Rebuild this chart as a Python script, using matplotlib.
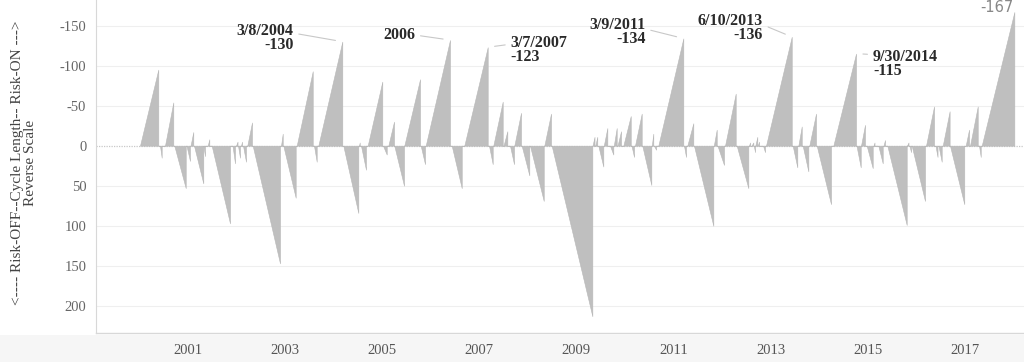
import matplotlib
matplotlib.use("Agg")
import matplotlib.pyplot as plt
from matplotlib.patches import Rectangle

# ---- data: each cycle ramps from 0 at its start to its peak at its end ----
cycle_start = [
    2000.013, 2000.425, 2000.528, 2000.720, 2000.971, 2001.054, 2001.126, 2001.321,
    2001.408, 2001.490, 2001.919, 2001.991, 2002.032, 2002.094, 2002.135, 2002.223,
    2002.335, 2002.918, 2002.965, 2003.241, 2003.597, 2003.686, 2004.201, 2004.524,
    2004.565, 2004.703, 2005.018, 2005.128, 2005.251, 2005.457, 2005.795, 2005.898,
    2006.434, 2006.693, 2007.202, 2007.290, 2007.501, 2007.634, 2007.723, 2007.875,
    2008.046, 2008.341, 2008.493, 2009.334, 2009.391, 2009.453, 2009.566, 2009.694,
    2009.772, 2009.849, 2009.968, 2010.137, 2010.209, 2010.359, 2010.555, 2010.600,
    2010.689, 2011.218, 2011.286, 2011.424, 2011.832, 2011.908, 2012.063, 2012.304,
    2012.557, 2012.609, 2012.656, 2012.687, 2012.738, 2012.846, 2012.907, 2013.457,
    2013.573, 2013.663, 2013.799, 2013.952, 2014.294, 2014.771, 2014.864, 2014.981,
    2015.121, 2015.220, 2015.327, 2015.406, 2015.811, 2015.863, 2015.908, 2016.203,
    2016.398, 2016.460, 2016.547, 2016.697, 2017.020, 2017.109, 2017.295, 2017.350,
]
cycle_end = [
    2000.390, 2000.460, 2000.699, 2000.955, 2001.043, 2001.111, 2001.317, 2001.352,
    2001.441, 2001.867, 2001.970, 2002.022, 2002.073, 2002.114, 2002.197, 2002.320,
    2002.897, 2002.953, 2003.220, 2003.571, 2003.653, 2004.180, 2004.510, 2004.539,
    2004.668, 2005.004, 2005.095, 2005.245, 2005.451, 2005.781, 2005.884, 2006.398,
    2006.640, 2007.175, 2007.278, 2007.484, 2007.579, 2007.717, 2007.861, 2008.032,
    2008.329, 2008.479, 2009.330, 2009.375, 2009.432, 2009.556, 2009.639, 2009.762,
    2009.832, 2009.921, 2010.121, 2010.189, 2010.347, 2010.545, 2010.586, 2010.642,
    2011.204, 2011.260, 2011.410, 2011.822, 2011.892, 2012.042, 2012.283, 2012.543,
    2012.578, 2012.646, 2012.681, 2012.728, 2012.763, 2012.887, 2013.437, 2013.552,
    2013.643, 2013.779, 2013.937, 2014.246, 2014.761, 2014.858, 2014.946, 2015.105,
    2015.142, 2015.311, 2015.358, 2015.805, 2015.842, 2015.894, 2016.182, 2016.368,
    2016.440, 2016.526, 2016.689, 2016.991, 2017.089, 2017.268, 2017.330, 2018.022,
]
cycle_peak = [
    -95, 15, -54, 53, 19, -17, 47, 13,
    -8, 97, 22, -5, 15, -5, 20, -29,
    147, -15, 65, -93, 20, -130, 84, -4,
    30, -80, 11, -30, 50, -83, 23, -132,
    53, -123, 23, -55, -18, 23, -41, 37,
    69, -40, 213, -11, -11, 26, -22, 11,
    -22, -18, -37, 14, -40, 49, -15, 5,
    -134, 14, -28, 100, -20, 24, -65, 53,
    -4, -4, 8, -11, -5, 8, -136, 27,
    -24, 32, -40, 73, -115, 27, -26, 28,
    -4, 22, -7, 99, -4, 8, 69, -49,
    14, 20, -43, 73, -20, -49, 14, -167,
]

year_ticks = [2001, 2003, 2005, 2007, 2009, 2011, 2013, 2015, 2017]
y_ticks = [-150, -100, -50, 0, 50, 100, 150, 200]

# annotations: label, date of peak, value of peak
ann_labels = ["3/8/2004\n-130", "2006", "3/7/2007\n-123", "3/9/2011\n-134",
              "6/10/2013\n-136", "9/30/2014\n-115"]
ann_dates = [2004.180, 2006.398, 2007.175, 2011.204, 2013.437, 2014.761]
ann_values = [-130, -132, -123, -134, -136, -115]

# ---- build the sawtooth path ----
xs, ys = [], []
for s, e, p in zip(cycle_start, cycle_end, cycle_peak):
    xs += [s, e, e]
    ys += [0, p, 0]

W, H, DPI = 1024, 362, 100
fig = plt.figure(figsize=(W / DPI, H / DPI), dpi=DPI)
fig.patch.set_facecolor("white")

# bottom grey band
fig.patches.append(Rectangle((0, 0), 1, 1 - 335 / H, transform=fig.transFigure,
                             facecolor="#f6f6f6", edgecolor="none", zorder=-5))

ax = fig.add_axes([96 / W, 1 - 333 / H, 1 - 96 / W, 333 / H])
ax.set_facecolor("white")
ax.set_zorder(1)

ax.fill_between(xs, 0, ys, color="#bfbfbf", linewidth=0.4, edgecolor="#b8b8b8", zorder=3)
ax.axhline(0, color="#c8c8c8", linestyle=(0, (1, 1)), linewidth=0.9, zorder=2)

for yv in y_ticks:
    if yv != 0:
        ax.axhline(yv, color="#efefef", linewidth=0.8, zorder=1)

ax.set_xlim(1999.107, 2018.221)
ax.set_ylim(234, -182)

ax.set_yticks(y_ticks)
ax.set_yticklabels([str(v) for v in y_ticks])
ax.set_xticks(year_ticks)
ax.set_xticklabels([str(v) for v in year_ticks])

serif = ["Liberation Serif", "DejaVu Serif"]
ax.tick_params(axis="both", length=0, labelsize=10.5, colors="#666666")
ax.tick_params(axis="y", pad=7)
ax.tick_params(axis="x", pad=8)
for lab in ax.get_xticklabels() + ax.get_yticklabels():
    lab.set_family(serif)
for lab in ax.get_xticklabels():
    lab.set_color("#555555")

for sp in ["top", "right"]:
    ax.spines[sp].set_visible(False)
ax.spines["left"].set_color("#d8d8d8")
ax.spines["bottom"].set_color("#d8d8d8")
ax.spines["left"].set_linewidth(0.8)
ax.spines["bottom"].set_linewidth(1.0)

# annotations (offsets in points)
px = 0.72
ann_offsets = [(-49, 4), (-35, 5), (23, -3), (-38, 6.5), (-29, 9), (17, -10)]
ann_ha = ["right", "right", "left", "right", "right", "left"]
ann_rel = [(1, 0.65), (1, 0.5), (0, 0.7), (1, 0.6), (1, 0.6), (0, 0.8)]
for lab, d, v, (dx, dy), ha, rp in zip(ann_labels, ann_dates, ann_values,
                                       ann_offsets, ann_ha, ann_rel):
    ax.annotate(lab, xy=(d, v), xytext=(dx * px, dy * px), textcoords="offset points",
                ha=ha, va="center", fontsize=11.5, fontweight="bold", family=serif,
                color="#2a2a2a", linespacing=0.85, zorder=5,
                arrowprops=dict(arrowstyle="-", color="#c8c8c8", lw=0.8,
                                shrinkA=2, shrinkB=5, relpos=rp))

# last value label
ax.annotate(str(cycle_peak[-1]), xy=(cycle_end[-1], cycle_peak[-1]),
            xytext=(-1 * px, 5 * px), textcoords="offset points",
            ha="right", va="center", fontsize=10.5, color="#888888",
            family=["DejaVu Sans"], zorder=5, annotation_clip=False)

fig.text(24 / W, 1 - 163 / H,
         "<---- Risk-OFF--Cycle Length-- Risk-ON --->\nReverse Scale",
         rotation=90, ha="center", va="center", multialignment="center",
         fontsize=11, family=serif, color="#444444", linespacing=1.05)

fig.savefig("out.png", dpi=DPI, facecolor="white")
